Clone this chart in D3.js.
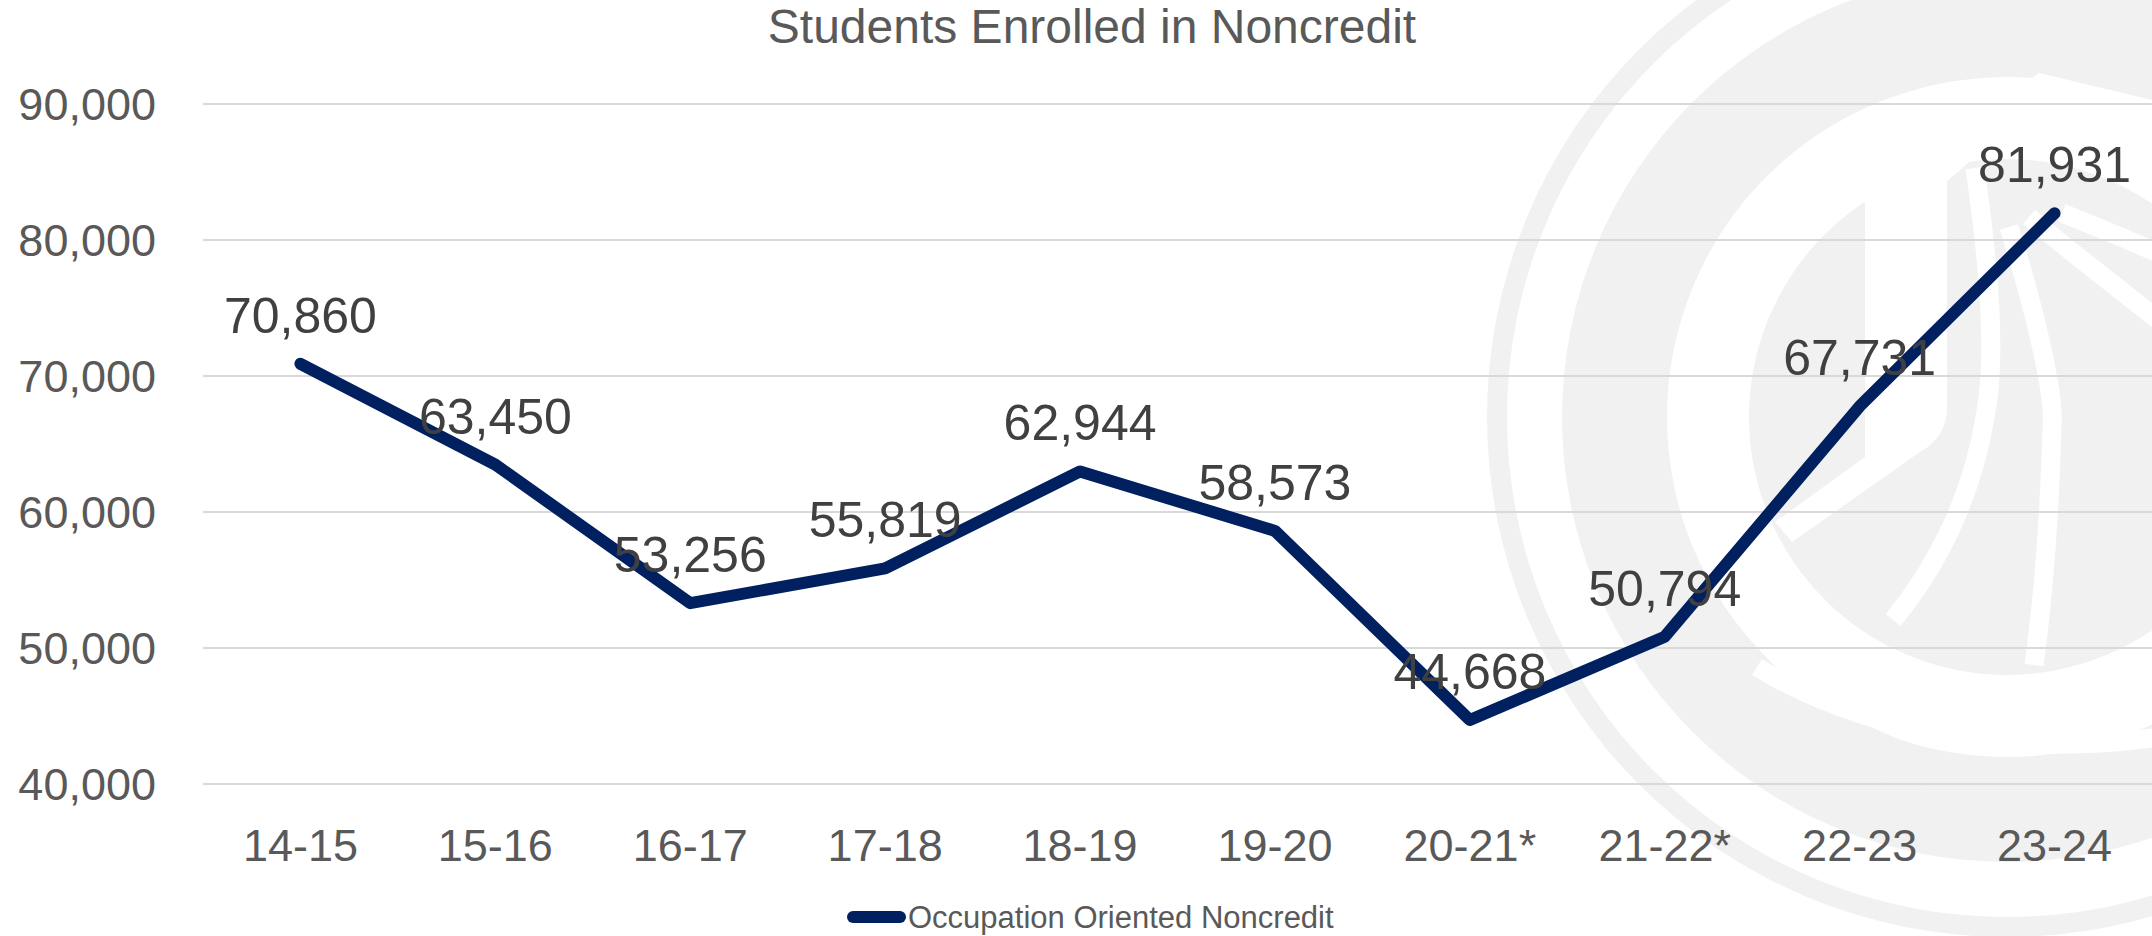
<!doctype html>
<html lang="en">
<head>
<meta charset="UTF-8">
<title>Students Enrolled in Noncredit</title>
<script src="https://d3js.org/d3.v7.min.js"></script>
<style>
    html, body { margin: 0; padding: 0; background: #fff; }
    svg { display: block; font-family: "Liberation Sans", Arial, sans-serif; }
    .grid line { stroke: #d9d9d9; stroke-width: 2; }
    .grid .domain { display: none; }
    .tick text { fill: #595959; font-size: 45px; }
    .xaxis .domain { display: none; }
    .label { fill: #404040; font-size: 50px; text-anchor: middle; }
</style>
</head>
<body>
<svg id="chart" width="2152" height="936"></svg>
<script>
// values
var years = ["14-15", "15-16", "16-17", "17-18", "18-19", "19-20", "20-21*", "21-22*", "22-23", "23-24"];
var students = [70860, 63450, 53256, 55819, 62944, 58573, 44668, 50794, 67731, 81931];
var yTicks = [40000, 50000, 60000, 70000, 80000, 90000];
var seriesName = "Occupation Oriented Noncredit";
var title = "Students Enrolled in Noncredit";

var plotL = 203, plotR = 2152, plotT = 103.5, plotB = 783.5;
var navy = "#002060", wm = "#f0f1f0";

var svg = d3.select("#chart");

// faint logo watermark behind the plot
var logo = svg.append("g").attr("transform", "translate(2007,417)");
var arc = d3.arc();
logo.append("path").attr("fill", wm)
    .attr("d", arc({innerRadius: 500, outerRadius: 520, startAngle: 0, endAngle: 2 * Math.PI}));
logo.append("path").attr("fill", wm)
    .attr("d", arc({innerRadius: 340, outerRadius: 445, startAngle: 0, endAngle: 2 * Math.PI}));
logo.append("circle").attr("r", 258).attr("fill", wm);
// swoosh crossing the lower-left gap
logo.append("path").attr("fill", wm)
    .attr("d", "M-370,250 C-250,330 -120,380 0,372 C-80,330 -180,300 -260,240 Z");
// white cuts inside the disc
var cut = logo.append("g").attr("fill", "none").attr("stroke", "#fff").attr("stroke-width", 19);
cut.append("path").attr("fill", "#fff").attr("stroke", "none")
    .attr("d", "M-142,-217 L32,-344 L145,-317 L145,-287 L32,-314 L-60,-236 L-60,-10 Q-60,20 -87,35 L-215,125 L-232,105 L-142,40 Z");
cut.append("path").attr("d", "M-32,-249 C-18,-150 -10,-60 -22,0 C-35,80 -70,150 -114,203");
cut.append("path").attr("d", "M2,-190 C30,-100 48,-20 45,10 C42,120 35,190 27,248");
cut.append("path").attr("d", "M22,-200 C70,-160 110,-130 160,-90");
cut.append("path").attr("d", "M55,-204 C90,-190 120,-178 160,-160");
cut.append("path").attr("d", "M-250,250 C-120,330 80,350 240,300");

// scales
var x = d3.scaleBand().domain(years).range([plotL, plotR]);
var y = d3.scaleLinear().domain([40000, 90000]).range([plotB, plotT]);
var cx = function (d) { return x(d) + x.bandwidth() / 2; };

// gridlines + y labels
var yAxis = d3.axisLeft(y).tickValues(yTicks).tickFormat(d3.format(",")).tickSize(-(plotR - plotL)).tickPadding(47);
var gy = svg.append("g").attr("class", "grid").attr("transform", "translate(" + plotL + ",0)").call(yAxis);
gy.selectAll(".tick text").attr("dy", "0.36em");

// x labels
var xAxis = d3.axisBottom(x).tickSize(0).tickPadding(0);
var gx = svg.append("g").attr("class", "xaxis").attr("transform", "translate(0," + plotB + ")").call(xAxis);
gx.selectAll(".tick text").attr("y", 861 - plotB).attr("dy", 0);

// title
svg.append("text")
    .attr("x", 1092).attr("y", 43)
    .attr("text-anchor", "middle")
    .attr("fill", "#595959")
    .style("font-size", "48px")
    .text(title);

// series line
var pts = years.map(function (d, i) { return {year: d, value: students[i]}; });
var line = d3.line()
    .x(function (d) { return cx(d.year); })
    .y(function (d) { return y(d.value); });
svg.append("path")
    .datum(pts)
    .attr("d", line)
    .attr("fill", "none")
    .attr("stroke", navy)
    .attr("stroke-width", 12)
    .attr("stroke-linecap", "round")
    .attr("stroke-linejoin", "round");

// data labels above points
svg.selectAll(".label")
    .data(pts)
    .enter()
    .append("text")
    .attr("class", "label")
    .attr("x", function (d) { return cx(d.year); })
    .attr("y", function (d) { return y(d.value) - 31; })
    .text(function (d) { return d3.format(",")(d.value); });

// legend
var lg = svg.append("g");
lg.append("line")
    .attr("x1", 853).attr("x2", 900).attr("y1", 917).attr("y2", 917)
    .attr("stroke", navy).attr("stroke-width", 12).attr("stroke-linecap", "round");
lg.append("text")
    .attr("x", 908).attr("y", 928)
    .attr("fill", "#595959")
    .style("font-size", "31px")
    .text(seriesName);
</script>
</body>
</html>
